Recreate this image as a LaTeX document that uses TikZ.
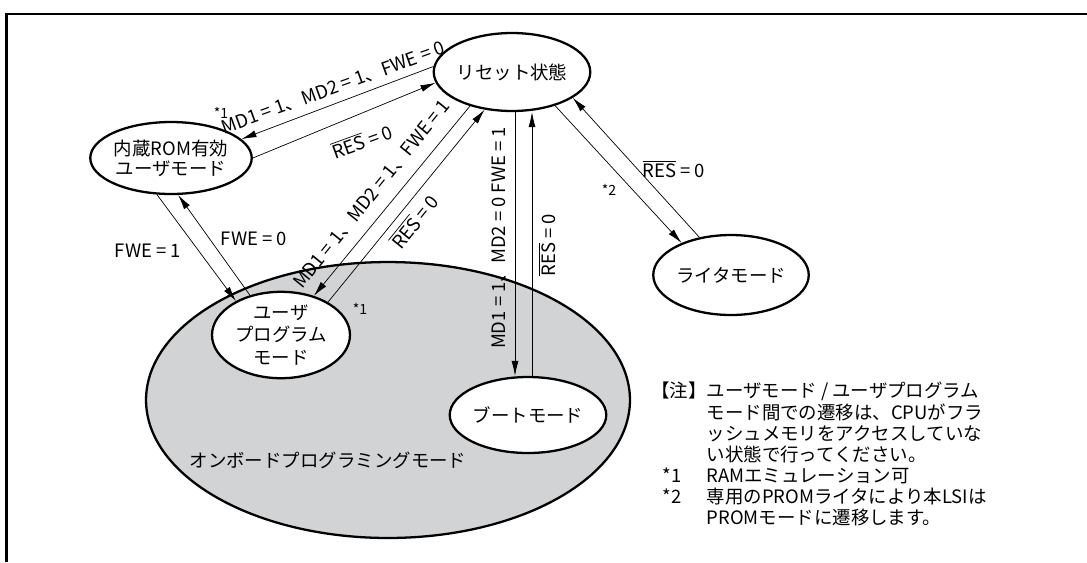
\documentclass[tikz,border=0pt]{standalone}
\usepackage{fontspec}
\setmainfont{Noto Sans CJK JP}
\usetikzlibrary{shapes.geometric,arrows.meta}
\definecolor{areagray}{RGB}{209,211,212}
\newcommand{\resbar}{$\overline{\mbox{RES}}$}

\begin{document}
\begin{tikzpicture}[x=0.02cm, y=-0.02cm,
    font=\fontsize{10.5}{14.8}\selectfont,
    state/.style={draw, ellipse, fill=white, line width=1.3pt, inner sep=0pt, align=center,
      font=\fontsize{10.5}{11.5}\selectfont},
    trans/.style={-{Latex[length=3mm,width=1.4mm]}, line width=0.4pt},
    lbl/.style={inner sep=0pt},
    star/.style={inner sep=0pt, font=\fontsize{8}{9}\selectfont}]
  \useasboundingbox (0,0) rectangle (1087,562);
  \draw[line width=1.7pt] (6.5,562) -- (6.5,14) -- (1087,14);

  \node[draw, ellipse, fill=areagray, line width=1.3pt, inner sep=0pt,
    minimum width=9.68cm, minimum height=5.52cm] (onboard) at (388,400) {};
  \node[lbl] (onboardlbl) at (328,460) {オンボードプログラミングモード};

  \node[state, minimum width=2.92cm, minimum height=1.56cm] (reset) at (512,72) {リセット状態};
  \node[state, minimum width=2.76cm, minimum height=1.44cm] (rom) at (171,158) {内蔵ROM有効\\ユーザモード};
  \node[state, minimum width=2.76cm, minimum height=1.64cm] (user) at (281,335) {ユーザ\\[1.5pt]プログラム\\[1.5pt]モード};
  \node[state, minimum width=2.92cm, minimum height=1.52cm] (boot) at (528,415) {ブートモード};
  \node[state, minimum width=2.76cm, minimum height=1.6cm] (writer) at (731,275) {ライタモード};

  \draw[trans] (reset.176) -- (rom.15);
  \draw[trans] (rom.0) -- (reset.188);
  \draw[trans] (reset.219) -- (user.50);
  \draw[trans] (user.35) -- (reset.234);
  \draw[trans] (rom.249) -- (user.143);
  \draw[trans] (user.128) -- (rom.281);
  \draw[trans] ([xshift=.06cm]reset.south) -- ([xshift=.06cm]reset.south |- boot.north);
  \draw[trans] ([xshift=.08cm]boot.north) -- ([xshift=.08cm]boot.north |- reset.south);
  \draw[trans] (reset.322) -- (writer.147);
  \draw[trans] (writer.130) -- (reset.337);

  \node[lbl, rotate=20] (lblrom) at (333,88) {MD1 = 1、MD2 = 1、FWE = 0};
  \node[lbl, rotate=20] (lblromres) at (362,141) {\resbar{} = 0};
  \node[lbl, rotate=51] (lbluser) at (372,194) {MD1 = 1、MD2 = 1、FWE = 1};
  \node[lbl, rotate=51] (lbluserres) at (414,221) {\resbar{} = 0};
  \node[lbl, rotate=90] (lblboot) at (499,238) {MD1 = 1、MD2 = 0 FWE = 1};
  \node[lbl, rotate=90] (lblbootres) at (547,245) {\resbar{} = 0};
  \node[lbl] (lblwriterres) at (674,169) {\resbar{} = 0};
  \node[lbl] (lblfweon) at (148,251) {FWE = 1};
  \node[lbl] (lblfweoff) at (254,239) {FWE = 0};

  \node[star] (starrom) at (221,113) {*1};
  \node[star] (staruser) at (360,309) {*1};
  \node[star] (starwriter) at (609,190) {*2};

  \node[anchor=north west, inner sep=0pt, font=\fontsize{10.5}{11.1}\selectfont] (note) at (651,382) {%
    \begin{tabular}{@{}l@{}l@{}}
      【注】 & ユーザモード / ユーザプログラム\\
      & モード間での遷移は、CPUがフラ\\
      & ッシュメモリをアクセスしていな\\
      & い状態で行ってください。\\
      \hspace{0.6em}*1 & RAMエミュレーション可\\
      \hspace{0.6em}*2 & 専用のPROMライタにより本LSIは\\
      & PROMモードに遷移します。
    \end{tabular}};
\end{tikzpicture}
\end{document}
